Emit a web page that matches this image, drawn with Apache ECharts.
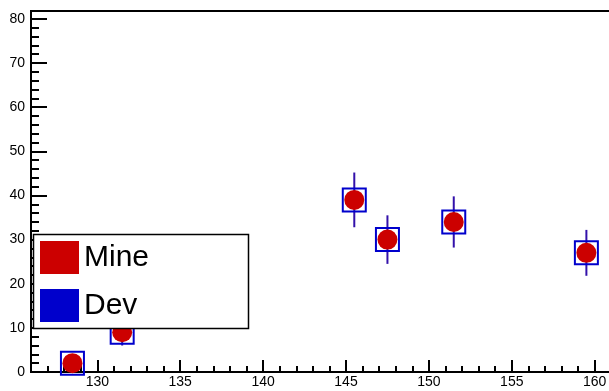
<!DOCTYPE html>
<html>
<head>
<meta charset="utf-8">
<script src="https://cdn.jsdelivr.net/npm/echarts@6/dist/echarts.min.js"></script>
<style>
html,body{margin:0;padding:0;background:#fff;}
#chart{width:609px;height:391px;}
</style>
</head>
<body>
<div id="chart"></div>
<script>
const xValues = [128.5, 131.5, 145.5, 147.5, 151.5, 159.5];
const mineValues = [2, 9, 39, 30, 34, 27];
const devValues = [2, 9, 39, 30, 34, 27];
const devErrors = [1.4, 3.0, 6.2, 5.5, 5.8, 5.2];
const xTickLabels = [130, 135, 140, 145, 150, 155, 160];
const yTickLabels = [0, 10, 20, 30, 40, 50, 60, 70, 80];
const legendNames = ['Mine', 'Dev'];

const RED = '#cc0000';
const BLUE = '#0000cc';
const FONT = 'Liberation Sans';

const chart = echarts.init(document.getElementById('chart'), null, {renderer: 'canvas'});

const minePts = xValues.map((x, i) => [x, mineValues[i]]);
const devPts = xValues.map((x, i) => [x, devValues[i]]);
const errPts = xValues.map((x, i) => [x, devValues[i], devErrors[i]]);

const option = {
  animation: false,
  backgroundColor: '#fff',
  grid: {
    left: 31, top: 11, bottom: 19, width: 590.2,
    outerBoundsMode: 'none', containLabel: false,
    show: true, borderColor: '#000', borderWidth: 2, backgroundColor: 'transparent'
  },
  xAxis: [
    {
      type: 'value', position: 'bottom', min: 126, max: 161.6,
      axisLine: {show: true, onZero: false, lineStyle: {color: '#000', width: 2}},
      axisTick: {show: true, inside: true, length: 12, customValues: xTickLabels, lineStyle: {color: '#000', width: 2}},
      axisLabel: {show: true, customValues: xTickLabels, margin: 3, color: '#000', fontFamily: FONT, fontSize: 14},
      splitLine: {show: false}
    },
    {
      type: 'value', position: 'bottom', min: 126, max: 161.6, interval: 1,
      axisLine: {show: false, onZero: false},
      axisTick: {show: true, inside: true, length: 6, lineStyle: {color: '#000', width: 2}},
      axisLabel: {show: false},
      splitLine: {show: false}
    }
  ],
  yAxis: [
    {
      type: 'value', position: 'left', min: 0, max: 81.8,
      axisLine: {show: true, onZero: false, lineStyle: {color: '#000', width: 2}},
      axisTick: {show: true, inside: true, length: 16, customValues: yTickLabels, lineStyle: {color: '#000', width: 2}},
      axisLabel: {show: true, customValues: yTickLabels, margin: 6, color: '#000', fontFamily: FONT, fontSize: 14},
      splitLine: {show: false}
    },
    {
      type: 'value', position: 'left', min: 0, max: 81.8, interval: 2,
      axisLine: {show: false, onZero: false},
      axisTick: {show: true, inside: true, length: 8, lineStyle: {color: '#000', width: 2}},
      axisLabel: {show: false},
      splitLine: {show: false}
    }
  ],
  legend: {
    orient: 'vertical', left: 40, top: 241, padding: 0,
    itemWidth: 39, itemHeight: 33, itemGap: 15, icon: 'rect',
    textStyle: {color: '#000', fontFamily: FONT, fontSize: 30},
    z: 20,
    data: [
      {name: legendNames[0], itemStyle: {color: RED, borderWidth: 0}},
      {name: legendNames[1], itemStyle: {color: BLUE, borderWidth: 0}}
    ]
  },
  graphic: [{
    type: 'rect', z: 10, silent: true,
    shape: {x: 33.5, y: 234.5, width: 215, height: 94},
    style: {fill: '#fff', stroke: '#000', lineWidth: 1.5}
  }],
  series: [
    {
      name: 'err', type: 'custom', xAxisIndex: 0, yAxisIndex: 0, clip: false, z: 2,
      data: errPts,
      renderItem: function (params, api) {
        const x = api.value(0), y = api.value(1), e = api.value(2);
        const top = api.coord([x, y + e]);
        const bot = api.coord([x, y - e]);
        return {
          type: 'line',
          shape: {x1: top[0], y1: top[1], x2: bot[0], y2: bot[1]},
          style: {stroke: '#3311aa', lineWidth: 2}
        };
      }
    },
    {
      name: legendNames[1], type: 'scatter', xAxisIndex: 0, yAxisIndex: 0, clip: false, z: 3,
      symbol: 'rect', symbolSize: 23,
      itemStyle: {color: 'rgba(255,255,255,0)', borderColor: BLUE, borderWidth: 2, opacity: 1},
      data: devPts
    },
    {
      name: legendNames[0], type: 'scatter', xAxisIndex: 0, yAxisIndex: 0, clip: false, z: 4,
      symbol: 'circle', symbolSize: 20,
      itemStyle: {color: RED, opacity: 1},
      data: minePts
    }
  ]
};
chart.setOption(option);
</script>
</body>
</html>
